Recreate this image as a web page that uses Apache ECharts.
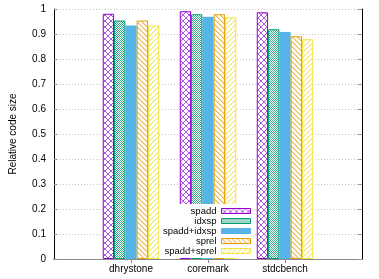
<!DOCTYPE html>
<html><head><meta charset="utf-8">
<script src="https://cdn.jsdelivr.net/npm/echarts@6/dist/echarts.min.js"></script>
<style>html,body{margin:0;padding:0;background:#fff}#c{width:379px;height:279px}</style>
</head><body><div id="c"></div>
<script>
var categories = ['dhrystone', 'coremark', 'stdcbench'];
var seriesNames = ['spadd', 'idxsp', 'spadd+idxsp', 'sprel', 'spadd+sprel'];
var spadd = [0.981, 0.991, 0.987];
var idxsp = [0.954, 0.979, 0.919];
var spaddIdxsp = [0.934, 0.969, 0.908];
var sprel = [0.954, 0.979, 0.891];
var spaddSprel = [0.934, 0.967, 0.879];
var yTicks = [0, 0.1, 0.2, 0.3, 0.4, 0.5, 0.6, 0.7, 0.8, 0.9, 1];

function tile(w, h, draw) {
  var c = document.createElement('canvas'); c.width = w; c.height = h;
  var g = c.getContext('2d'); g.fillStyle = '#fff'; g.fillRect(0, 0, w, h); draw(g, w, h); return c;
}
var patSpadd = tile(6, 6, function (g, w) {
  g.fillStyle = '#b556e6';
  for (var i = 0; i < w; i++) { g.fillRect(i, i, 1, 1); g.fillRect(w - 1 - i, i, 1, 1); }
});
var patIdx = tile(2, 2, function (g) {
  g.fillStyle = '#3aae88'; g.fillRect(0, 0, 1, 1); g.fillRect(1, 1, 1, 1);
});
var patSprel = tile(5, 5, function (g, w) {
  for (var i = 0; i < w; i++) { g.fillStyle = '#eeb84a'; g.fillRect(i, i, 1, 1); g.fillStyle = '#f6d9a0'; g.fillRect((i + 1) % w, i, 1, 1); }
});
var patSS = tile(5, 5, function (g, w) {
  for (var i = 0; i < w; i++) { g.fillStyle = '#f3e86a'; g.fillRect(w - 1 - i, i, 1, 1); g.fillStyle = '#f9f3b8'; g.fillRect((w - i) % w, i, 1, 1); }
});

var fills = [
  {image: patSpadd, repeat: 'repeat'},
  {image: patIdx, repeat: 'repeat'},
  '#56b4e9',
  {image: patSprel, repeat: 'repeat'},
  {image: patSS, repeat: 'repeat'}
];
var borders = ['#9400d3', '#009e73', '#56b4e9', '#e69f00', '#f0e442'];
var values = [spadd, idxsp, spaddIdxsp, sprel, spaddSprel];
var xData = [''].concat(categories, ['']);

var series = seriesNames.map(function (n, k) {
  return {
    name: n, type: 'bar', barWidth: 11.3, barGap: '0%',
    data: [null].concat(values[k], [null]),
    itemStyle: {color: fills[k], borderColor: borders[k], borderWidth: k === 2 ? 0 : 1},
    emphasis: {disabled: true}, animation: false
  };
});

var chart = echarts.init(document.getElementById('c'), null, {renderer: 'canvas'});
chart.setOption({
  animation: false,
  grid: {left: 47, right: 17, top: 9, bottom: 20, containLabel: false},
  legend: {
    orient: 'vertical', align: 'right', right: 124, top: 204,
    backgroundColor: '#fff', padding: [2, 4, 2, 4], itemGap: 0,
    itemWidth: 29, itemHeight: 5, icon: 'rect', itemStyle: {borderWidth: 1},
    textStyle: {fontFamily: 'Liberation Sans', fontSize: 9.5, color: '#000', lineHeight: 9.7},
    data: seriesNames, selectedMode: false
  },
  xAxis: [{
    type: 'category', data: xData, boundaryGap: false,
    axisLine: {lineStyle: {color: '#000', width: 1}},
    axisTick: {show: false},
    axisLabel: {fontFamily: 'Liberation Sans', fontSize: 10, color: '#000', margin: 5, interval: 0},
    splitLine: {show: false}
  }, {
    type: 'category', data: xData, boundaryGap: false, position: 'top',
    axisLine: {lineStyle: {color: '#888', width: 1}},
    axisTick: {show: true, inside: true, length: 4, lineStyle: {color: '#888'}, interval: function (i) { return i > 0 && i < 4; }},
    axisLabel: {show: false}
  }],
  yAxis: [{
    type: 'value', min: 0, max: 1, interval: 0.1,
    name: 'Relative code size', nameLocation: 'middle', nameGap: 36, nameRotate: 90,
    nameTextStyle: {fontFamily: 'Liberation Sans', fontSize: 10, color: '#000'},
    axisLine: {show: true, lineStyle: {color: '#000'}},
    axisTick: {show: true, inside: true, length: 3, lineStyle: {color: '#999'}},
    axisLabel: {fontFamily: 'Liberation Sans', fontSize: 10, color: '#000', margin: 8,
      formatter: function (v) { return String(Math.round(v * 10) / 10); }},
    splitLine: {show: true, lineStyle: {color: '#c8c8c8', type: [1, 2], width: 1}}
  }, {
    type: 'value', min: 0, max: 1, interval: 0.1, position: 'right',
    axisLine: {show: true, lineStyle: {color: '#000'}},
    axisTick: {show: true, inside: true, length: 4, lineStyle: {color: '#999'}},
    axisLabel: {show: false}, splitLine: {show: false}
  }],
  series: series
});
</script></body></html>
